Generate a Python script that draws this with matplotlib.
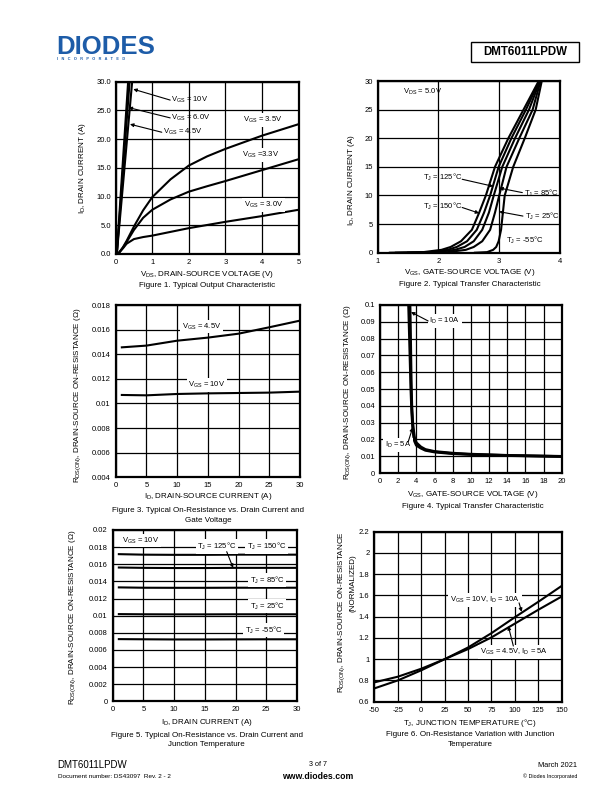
import matplotlib
matplotlib.use('Agg')
import matplotlib.pyplot as plt
from matplotlib.patches import Rectangle

plt.rcParams['font.family'] = ['Liberation Sans', 'DejaVu Sans']
plt.rcParams['mathtext.fontset'] = 'custom'
plt.rcParams['mathtext.rm'] = 'Liberation Sans'
plt.rcParams['mathtext.it'] = 'Liberation Sans:italic'
plt.rcParams['mathtext.bf'] = 'Liberation Sans:bold'

# ---------------- DATA ----------------
# Figure 1: output characteristic
f1_vds = [0.05, 0.1, 0.2, 0.3, 0.5, 0.75, 1.0, 1.5, 2.0, 2.5, 3.0, 4.0, 5.0]
f1_id_35 = [0.0, 0.3, 1.2, 2.3, 4.8, 7.6, 9.9, 13.0, 15.4, 17.0, 18.3, 20.6, 22.6]
f1_id_33 = [0.0, 0.3, 1.1, 2.1, 4.2, 6.3, 7.7, 9.5, 10.85, 11.8, 12.7, 14.6, 16.5]
f1_id_30 = [0.0, 0.3, 1.0, 1.8, 2.6, 2.95, 3.2, 3.85, 4.5, 5.05, 5.6, 6.6, 7.7]
f1_vds_10 = [0.03, 0.34]
f1_vds_60 = [0.03, 0.38]
f1_vds_45 = [0.03, 0.45]
f1_id_lin = [0.0, 30.0]

# Figure 2: transfer characteristic (VDS = 5V)
f2_id = [0, 0.1, 0.5, 1, 2, 4, 7, 10, 15, 20, 25, 30]
f2_vgs_150 = [1.2, 1.75, 2.05, 2.2, 2.37, 2.55, 2.67, 2.78, 2.93, 3.15, 3.40, 3.65]
f2_vgs_125 = [1.3, 1.85, 2.15, 2.30, 2.47, 2.63, 2.75, 2.85, 2.99, 3.20, 3.44, 3.66]
f2_vgs_85 = [1.5, 1.95, 2.27, 2.43, 2.58, 2.72, 2.83, 2.91, 3.05, 3.26, 3.49, 3.67]
f2_vgs_25 = [1.8, 2.15, 2.45, 2.58, 2.72, 2.85, 2.93, 3.00, 3.12, 3.33, 3.55, 3.68]
f2_vgs_m55 = [2.6, 2.8, 2.9, 2.95, 2.99, 3.03, 3.06, 3.09, 3.23, 3.42, 3.60, 3.70]

# Figure 3: RDS(on) vs drain current and gate voltage
f3_id = [1, 5, 10, 15, 20, 25, 30]
f3_r_45 = [0.01456, 0.01470, 0.01510, 0.01535, 0.01567, 0.01619, 0.01673]
f3_r_10 = [0.01069, 0.01066, 0.01077, 0.01082, 0.01085, 0.01088, 0.01096]

# Figure 4: RDS(on) vs gate voltage
f4_vgs_10a = [3.3, 3.35, 3.4, 3.45, 3.5, 3.6, 3.7, 3.8, 4.0, 4.5, 5, 6, 8, 10, 14, 20]
f4_r_10a = [0.1, 0.085, 0.066, 0.05, 0.04, 0.03, 0.025, 0.021, 0.018, 0.0155, 0.014,
            0.0128, 0.0118, 0.0112, 0.0105, 0.0099]
f4_vgs_5a = [3.15, 3.2, 3.3, 3.4, 3.5, 3.6, 3.7, 3.8, 4.0, 4.5, 5, 6, 8, 10, 14, 20]
f4_r_5a = [0.1, 0.09, 0.07, 0.05, 0.036, 0.027, 0.022, 0.019, 0.0165, 0.0148, 0.0135,
           0.0125, 0.0115, 0.011, 0.0104, 0.0098]

# Figure 5: RDS(on) vs drain current and temperature (VGS = 10V)
f5_id = [1, 5, 10, 15, 20, 25, 30]
f5_r_150 = [0.01718, 0.01712, 0.01710, 0.01710, 0.01712, 0.01712, 0.01712]
f5_r_125 = [0.01562, 0.01558, 0.01556, 0.01556, 0.01558, 0.01558, 0.01558]
f5_r_85 = [0.01330, 0.01326, 0.01325, 0.01325, 0.01326, 0.01326, 0.01326]
f5_r_25 = [0.01018, 0.01016, 0.01015, 0.01015, 0.01016, 0.01016, 0.01016]
f5_r_m55 = [0.00726, 0.00724, 0.00722, 0.00722, 0.00723, 0.00724, 0.00724]

# Figure 6: normalized RDS(on) vs junction temperature
f6_tj = [-50, -25, 0, 25, 50, 75, 100, 125, 150]
f6_r_10v = [0.725, 0.80, 0.895, 1.0, 1.11, 1.245, 1.395, 1.54, 1.69]
f6_r_45v = [0.782, 0.835, 0.91, 1.0, 1.095, 1.205, 1.335, 1.465, 1.59]

# ---------------- FIGURE ----------------
W, H = 612, 792
fig = plt.figure(figsize=(6.12, 7.92), dpi=100)

TFS = 5.5   # tick label size
LFS = 5.8   # axis label / caption size


def make_axes(l, t, r, b, xlim, ylim, xticks, yticks, xtl, ytl):
    ax = fig.add_axes([l / W, 1 - b / H, (r - l) / W, (b - t) / H])
    ax.set_xlim(*xlim)
    ax.set_ylim(*ylim)
    ax.set_xticks(xticks)
    ax.set_yticks(yticks)
    ax.set_xticklabels(xtl)
    ax.set_yticklabels(ytl)
    ax.tick_params(length=0, pad=3.5, labelsize=TFS)
    ax.grid(True, color='black', lw=0.9)
    ax.set_axisbelow(True)
    for s in ax.spines.values():
        s.set_linewidth(1.6)
    return ax


def ftext(x, y, s, **kw):
    kw.setdefault('ha', 'center')
    kw.setdefault('va', 'center')
    kw.setdefault('fontsize', LFS)
    fig.text(x / W, 1 - y / H, s, **kw)


def arrow(ax, start, end):
    ax.annotate('', xy=end, xytext=start,
                arrowprops=dict(arrowstyle='-|>', lw=0.8, color='black',
                                mutation_scale=5, shrinkA=0, shrinkB=0))


LW = 1.5
WB = dict(facecolor='white', edgecolor='none', pad=1.2)
DEG = '°C'

# ---- Figure 1 ----
ax1 = make_axes(115.7, 81.7, 298.5, 254, (0, 5), (0, 30), [0, 1, 2, 3, 4, 5],
                [0, 5, 10, 15, 20, 25, 30], ['0', '1', '2', '3', '4', '5'],
                ['0.0', '5.0', '10.0', '15.0', '20.0', '25.0', '30.0'])
for vx in (f1_vds_10, f1_vds_60, f1_vds_45):
    ax1.plot(vx, f1_id_lin, color='black', lw=LW)
ax1.plot(f1_vds, f1_id_35, color='black', lw=LW)
ax1.plot(f1_vds, f1_id_33, color='black', lw=LW)
ax1.plot(f1_vds, f1_id_30, color='black', lw=LW)
ax1.text(1.52, 26.8, r'V$_\mathrm{GS}$ = 10V', fontsize=TFS, va='center')
ax1.text(1.52, 23.7, r'V$_\mathrm{GS}$ = 6.0V', fontsize=TFS, va='center')
ax1.text(1.29, 21.2, r'V$_\mathrm{GS}$ = 4.5V', fontsize=TFS, va='center')
arrow(ax1, (1.49, 26.8), (0.48, 28.7))
arrow(ax1, (1.49, 23.7), (0.35, 25.5))
arrow(ax1, (1.26, 21.2), (0.39, 22.6))
ax1.text(3.49, 23.3, r'V$_\mathrm{GS}$ = 3.5V', fontsize=TFS, va='center', bbox=WB)
ax1.text(3.45, 17.2, r'V$_\mathrm{GS}$ =3.3V', fontsize=TFS, va='center', bbox=WB)
ax1.text(3.50, 8.5, r'V$_\mathrm{GS}$ = 3.0V', fontsize=TFS, va='center', bbox=WB)
ftext(82.7, 168, r'I$_\mathrm{D}$, DRAIN CURRENT (A)', rotation=90)
ftext(206.7, 275, r'V$_\mathrm{DS}$, DRAIN-SOURCE VOLTAGE (V)')
ftext(206.7, 285.7, 'Figure 1. Typical Output Characteristic')

# ---- Figure 2 ----
ax2 = make_axes(377.7, 81, 560, 252.7, (1, 4), (0, 30), [1, 2, 3, 4],
                [0, 5, 10, 15, 20, 25, 30], ['1', '2', '3', '4'],
                ['0', '5', '10', '15', '20', '25', '30'])
for vg in (f2_vgs_150, f2_vgs_125, f2_vgs_85, f2_vgs_25, f2_vgs_m55):
    ax2.plot(vg, f2_id, color='black', lw=LW)
ax2.text(1.42, 28.1, r'V$_\mathrm{DS}$ = 5.0V', fontsize=TFS, va='center')
ax2.text(1.75, 13.2, r'T$_\mathrm{J}$ = 125' + DEG, fontsize=TFS, va='center')
ax2.text(3.41, 10.4, r'T$_\mathrm{J}$ = 85' + DEG, fontsize=TFS, va='center')
ax2.text(1.75, 8.05, r'T$_\mathrm{J}$ = 150' + DEG, fontsize=TFS, va='center')
ax2.text(3.42, 6.3, r'T$_\mathrm{J}$ = 25' + DEG, fontsize=TFS, va='center')
ax2.text(3.11, 2.1, r'T$_\mathrm{J}$ = -55' + DEG, fontsize=TFS, va='center')
arrow(ax2, (2.39, 12.83), (2.90, 11.6))
arrow(ax2, (3.38, 10.5), (3.00, 11.3))
arrow(ax2, (2.39, 7.9), (2.67, 6.9))
arrow(ax2, (3.39, 6.4), (3.00, 7.17))
ftext(351.7, 180, r'I$_\mathrm{D}$, DRAIN CURRENT (A)', rotation=90)
ftext(470, 273, r'V$_\mathrm{GS}$, GATE-SOURCE VOLTAGE (V)')
ftext(470, 285, 'Figure 2. Typical Transfer Characteristic')

# ---- Figure 3 ----
ax3 = make_axes(115.7, 305, 300, 477.3, (0, 30), (0.004, 0.018),
                [0, 5, 10, 15, 20, 25, 30],
                [0.004, 0.006, 0.008, 0.010, 0.012, 0.014, 0.016, 0.018],
                ['0', '5', '10', '15', '20', '25', '30'],
                ['0.004', '0.006', '0.008', '0.01', '0.012', '0.014', '0.016', '0.018'])
ax3.plot(f3_id, f3_r_45, color='black', lw=LW)
ax3.plot(f3_id, f3_r_10, color='black', lw=LW)
ax3.text(10.74, 0.01624, r'V$_\mathrm{GS}$ = 4.5V', fontsize=TFS, va='center', bbox=WB)
ax3.text(11.83, 0.0115, r'V$_\mathrm{GS}$ = 10V', fontsize=TFS, va='center', bbox=WB)
ftext(77.3, 395, r'R$_\mathrm{DS(ON)}$, DRAIN-SOURCE ON-RESISTANCE (Ω)', rotation=90)
ftext(208, 497, r'I$_\mathrm{D}$, DRAIN-SOURCE CURRENT (A)')
ftext(208, 510.5, 'Figure 3. Typical On-Resistance vs. Drain Current and')
ftext(208, 520, 'Gate Voltage')

# ---- Figure 4 ----
ax4 = make_axes(380, 305, 561.7, 473, (0, 20), (0, 0.1),
                list(range(0, 21, 2)),
                [0, 0.01, 0.02, 0.03, 0.04, 0.05, 0.06, 0.07, 0.08, 0.09, 0.1],
                [str(v) for v in range(0, 21, 2)],
                ['0', '0.01', '0.02', '0.03', '0.04', '0.05', '0.06', '0.07', '0.08', '0.09', '0.1'])
ax4.plot(f4_vgs_10a, f4_r_10a, color='black', lw=2.0)
ax4.plot(f4_vgs_5a, f4_r_5a, color='black', lw=2.0)
ax4.text(5.43, 0.0905, r'I$_\mathrm{D}$ = 10A', fontsize=TFS, va='center', bbox=WB)
ax4.text(0.55, 0.0168, r'I$_\mathrm{D}$ = 5A', fontsize=TFS, va='center', bbox=WB)
arrow(ax4, (5.3, 0.0905), (3.41, 0.0958))
arrow(ax4, (3.1, 0.0185), (3.6, 0.0271))
ftext(347.3, 392, r'R$_\mathrm{DS(ON)}$, DRAIN-SOURCE ON-RESISTANCE (Ω)', rotation=90)
ftext(473, 495, r'V$_\mathrm{GS}$, GATE-SOURCE VOLTAGE (V)')
ftext(473, 506.5, 'Figure 4. Typical Transfer Characteristic')

# ---- Figure 5 ----
ax5 = make_axes(112.7, 530, 297, 701.3, (0, 30), (0, 0.02),
                [0, 5, 10, 15, 20, 25, 30],
                [0, 0.002, 0.004, 0.006, 0.008, 0.01, 0.012, 0.014, 0.016, 0.018, 0.02],
                ['0', '5', '10', '15', '20', '25', '30'],
                ['0', '0.002', '0.004', '0.006', '0.008', '0.01', '0.012', '0.014',
                 '0.016', '0.018', '0.02'])
for rr in (f5_r_150, f5_r_125, f5_r_85, f5_r_25, f5_r_m55):
    ax5.plot(f5_id, rr, color='black', lw=LW)
ax5.text(1.46, 0.01875, r'V$_\mathrm{GS}$ = 10V', fontsize=TFS, va='center', bbox=WB)
ax5.text(13.8, 0.01805, r'T$_\mathrm{J}$ = 125' + DEG, fontsize=TFS, va='center', bbox=WB)
ax5.text(21.8, 0.01805, r'T$_\mathrm{J}$ = 150' + DEG, fontsize=TFS, va='center', bbox=WB)
ax5.text(22.3, 0.01416, r'T$_\mathrm{J}$ = 85' + DEG, fontsize=TFS, va='center', bbox=WB)
ax5.text(22.3, 0.01113, r'T$_\mathrm{J}$ = 25' + DEG, fontsize=TFS, va='center', bbox=WB)
ax5.text(21.5, 0.00833, r'T$_\mathrm{J}$ = -55' + DEG, fontsize=TFS, va='center', bbox=WB)
arrow(ax5, (18.56, 0.01747), (19.6, 0.01558))
ftext(73, 617, r'R$_\mathrm{DS(ON)}$, DRAIN-SOURCE ON-RESISTANCE (Ω)', rotation=90)
ftext(206.7, 723, r'I$_\mathrm{D}$, DRAIN CURRENT (A)')
ftext(206.7, 735.5, 'Figure 5. Typical On-Resistance vs. Drain Current and')
ftext(206.7, 745, 'Junction Temperature')

# ---- Figure 6 ----
ax6 = make_axes(374.3, 531.7, 561.7, 701.7, (-50, 150), (0.6, 2.2),
                list(range(-50, 151, 25)),
                [0.6, 0.8, 1.0, 1.2, 1.4, 1.6, 1.8, 2.0, 2.2],
                [str(v) for v in range(-50, 151, 25)],
                ['0.6', '0.8', '1', '1.2', '1.4', '1.6', '1.8', '2', '2.2'])
ax6.plot(f6_tj, f6_r_10v, color='black', lw=LW)
ax6.plot(f6_tj, f6_r_45v, color='black', lw=LW)
ax6.text(30.8, 1.557, r'V$_\mathrm{GS}$ = 10V, I$_\mathrm{D}$ = 10A', fontsize=TFS,
         va='center', bbox=WB)
ax6.text(62.8, 1.07, r'V$_\mathrm{GS}$ = 4.5V, I$_\mathrm{D}$ = 5A', fontsize=TFS,
         va='center', bbox=WB)
arrow(ax6, (104.5, 1.53), (107.3, 1.445))
arrow(ax6, (98.4, 1.124), (93.0, 1.312))
ftext(341.5, 612, r'R$_\mathrm{DS(ON)}$, DRAIN-SOURCE ON-RESISTANCE', rotation=90)
ftext(353.5, 583, '(NORMALIZED)', rotation=90)
ftext(470, 723, r'T$_\mathrm{J}$, JUNCTION TEMPERATURE (' + DEG + ')')
ftext(470, 735, 'Figure 6. On-Resistance Variation with Junction')
ftext(470, 744.5, 'Temperature')

# ---------------- HEADER ----------------
ftext(56.5, 46.5, 'DIODES', ha='left', fontsize=18.5, fontweight='heavy', color='#1d5ca8')
ftext(57, 59.5, 'I   N   C   O   R   P   O   R   A   T   E   D', ha='left',
      fontsize=2.8, fontweight='bold', color='#1d5ca8')
fig.patches.append(Rectangle((471 / W, 1 - 62 / H), 108 / W, 20 / H, fill=False,
                             lw=1.0, edgecolor='black', transform=fig.transFigure))
ftext(525, 52, 'DMT6011LPDW', fontsize=8.3, fontweight='bold')

# ---------------- FOOTER ----------------
ftext(57.5, 765.5, 'DMT6011LPDW', ha='left', fontsize=7)
ftext(57.5, 776.5, 'Document number: DS43097  Rev. 2 - 2', ha='left', fontsize=4.6)
ftext(318, 765, '3 of 7', fontsize=5.2)
ftext(318, 776.5, 'www.diodes.com', fontsize=6.3, fontweight='bold')
ftext(577, 765.5, 'March 2021', ha='right', fontsize=5.3)
ftext(577, 776.5, '© Diodes Incorporated', ha='right', fontsize=3.9)

fig.savefig('out.png', dpi=100)
